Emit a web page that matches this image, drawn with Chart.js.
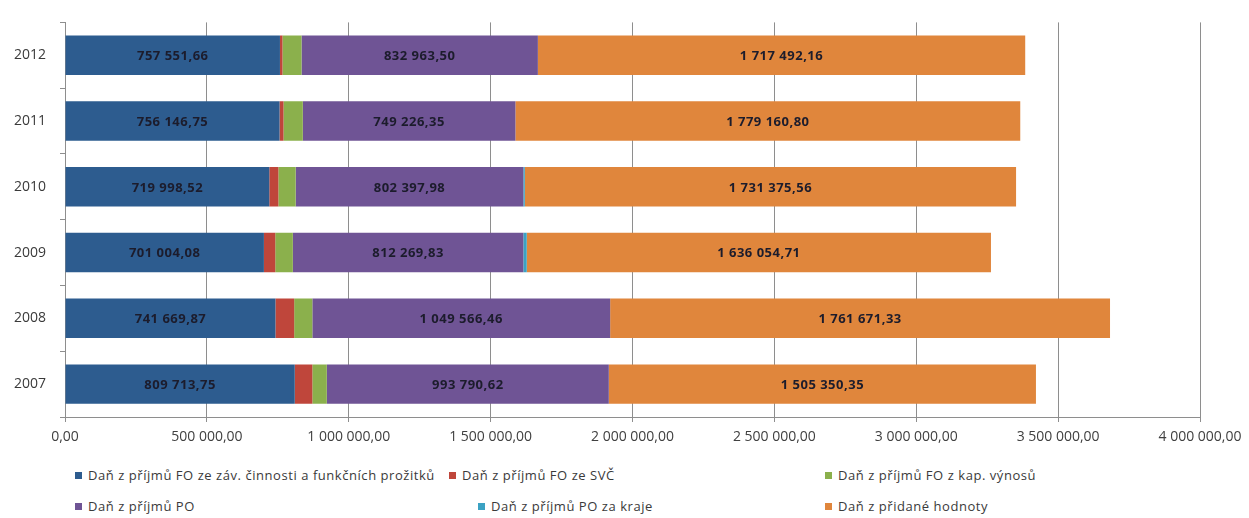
<!DOCTYPE html>
<html lang="cs">
<head>
<meta charset="utf-8">
<script src="https://cdn.jsdelivr.net/npm/chart.js@4"></script>
<style>
  html, body { margin: 0; padding: 0; background: #ffffff; }
  #wrap { position: relative; width: 1249px; height: 518px; }
  #box { position: absolute; left: 0; top: 0; width: 1249px; height: 455px; }
  .lg { position: absolute; font-family: "Open Sans", sans-serif; font-size: 13px; letter-spacing: 0.55px; color: #3a3a3a; white-space: nowrap; line-height: 16px; }
  .lg i { display: inline-block; width: 7px; height: 7px; margin-right: 6px; vertical-align: 1px; }
</style>
</head>
<body>
<div id="wrap">
  <div id="box"><canvas id="c"></canvas></div>
  <div id="legend"></div>
</div>
<script>
// ---- data ----
const years = ['2012', '2011', '2010', '2009', '2008', '2007'];
const seriesNames = [
  'Daň z příjmů FO ze záv. činnosti a funkčních prožitků',
  'Daň z příjmů FO ze SVČ',
  'Daň z příjmů FO z kap. výnosů',
  'Daň z příjmů PO',
  'Daň z příjmů PO za kraje',
  'Daň z přidané hodnoty'
];
const foZavisla   = [757551.66, 756146.75, 719998.52, 701004.08, 741669.87, 809713.75];
const foSvc       = [9000, 14000, 32000, 40000, 66000, 62000];
const foKap       = [67000, 68000, 61000, 62000, 64000, 51000];
const po          = [832963.50, 749226.35, 802397.98, 812269.83, 1049566.46, 993790.62];
const poKraje     = [0, 0, 5000, 12000, 0, 0];
const dph         = [1717492.16, 1779160.80, 1731375.56, 1636054.71, 1761671.33, 1505350.35];
const xTickMax = 4000000;
const xTickStep = 500000;

// ---- styling ----
const colors = ['#2d5c8f', '#bf463b', '#8bb04c', '#6f5495', '#3ba2c3', '#e0863c'];
const labelled = [true, false, false, true, false, true];
const seriesValues = [foZavisla, foSvc, foKap, po, poKraje, dph];

function fmt(v) {
  const parts = v.toFixed(2).split('.');
  return parts[0].replace(/\B(?=(\d{3})+(?!\d))/g, ' ') + ',' + parts[1];
}

const valueLabels = {
  id: 'valueLabels',
  afterDatasetsDraw(chart) {
    const ctx = chart.ctx;
    ctx.save();
    ctx.font = 'bold 13px "Open Sans", sans-serif';
    if ('letterSpacing' in ctx) ctx.letterSpacing = '0.5px';
    ctx.fillStyle = '#1c1c2c';
    ctx.textAlign = 'center';
    ctx.textBaseline = 'middle';
    chart.data.datasets.forEach((ds, di) => {
      if (!labelled[di]) return;
      const meta = chart.getDatasetMeta(di);
      meta.data.forEach((el, i) => {
        const p = el.getCenterPoint();
        ctx.fillText(fmt(ds.data[i]), p.x, p.y + 1);
      });
    });
    ctx.restore();
  }
};

const chart = new Chart(document.getElementById('c'), {
  type: 'bar',
  data: {
    labels: years,
    datasets: seriesValues.map((vals, i) => ({
      label: seriesNames[i],
      data: vals,
      backgroundColor: colors[i],
      borderWidth: 0,
      categoryPercentage: 1,
      barPercentage: 0.6
    }))
  },
  options: {
    indexAxis: 'y',
    responsive: true,
    maintainAspectRatio: false,
    animation: false,
    layout: { padding: { left: 0, right: 49, top: 18, bottom: 0 } },
    plugins: { legend: { display: false }, tooltip: { enabled: false } },
    scales: {
      x: {
        stacked: true,
        min: 0,
        max: xTickMax,
        ticks: {
          stepSize: xTickStep,
          color: '#404040',
          font: { family: '"Open Sans", sans-serif', size: 14 },
          padding: 7,
          maxRotation: 0,
          callback: (v) => fmt(v)
        },
        grid: { color: '#8e8e8e', lineWidth: 1, tickLength: 5, drawTicks: true },
        border: { color: '#8e8e8e' },
        afterFit: (s) => { s.height = 38; }
      },
      y: {
        stacked: true,
        offset: true,
        ticks: {
          color: '#3a3a3a',
          font: { family: '"Open Sans", sans-serif', size: 14 },
          padding: 14
        },
        grid: { offset: true, drawOnChartArea: false, color: '#8e8e8e', tickLength: 5 },
        border: { color: '#8e8e8e' },
        afterFit: (s) => { s.width = 65; }
      }
    }
  },
  plugins: [valueLabels]
});

// ---- legend (HTML, built from the chart's datasets) ----
const legendPos = [
  [75, 467], [449, 467], [825, 467],
  [75, 498], [478, 498], [825, 498]
];
const lg = document.getElementById('legend');
chart.data.datasets.forEach((ds, i) => {
  const d = document.createElement('div');
  d.className = 'lg';
  d.style.left = legendPos[i][0] + 'px';
  d.style.top = legendPos[i][1] + 'px';
  const sw = document.createElement('i');
  sw.style.background = ds.backgroundColor;
  d.appendChild(sw);
  d.appendChild(document.createTextNode(ds.label));
  lg.appendChild(d);
});
</script>
</body>
</html>
